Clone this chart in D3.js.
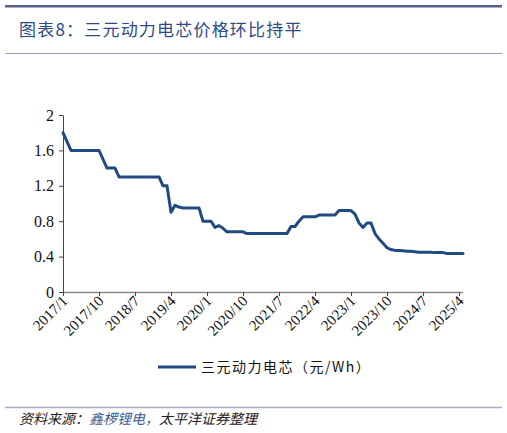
<!DOCTYPE html>
<html lang="zh">
<head>
<meta charset="UTF-8">
<script src="https://d3js.org/d3.v7.min.js"></script>
<style>
  body { margin: 0; background: #fff; }
  svg { display: block; }
</style>
</head>
<body>
<svg width="507" height="433"></svg>
<script>
// monthly values from 2017/1 to 2025/5 (元/Wh)
const startYear = 2017
const values = [
  1.8, 1.7, 1.6, 1.6, 1.6, 1.6, 1.6, 1.6, 1.6, 1.6, 1.5, 1.4,
  1.4, 1.4, 1.3, 1.3, 1.3, 1.3, 1.3, 1.3, 1.3, 1.3, 1.3, 1.3,
  1.3, 1.2, 1.2, 0.9, 0.98, 0.96, 0.95, 0.95, 0.95, 0.95, 0.95, 0.8,
  0.8, 0.8, 0.73, 0.75, 0.72, 0.68, 0.68, 0.68, 0.68, 0.68, 0.66, 0.66,
  0.66, 0.66, 0.66, 0.66, 0.66, 0.66, 0.66, 0.66, 0.66, 0.74, 0.74, 0.8,
  0.85, 0.85, 0.85, 0.85, 0.87, 0.87, 0.87, 0.87, 0.87, 0.92, 0.92, 0.92,
  0.92, 0.88, 0.78, 0.73, 0.78, 0.78, 0.66, 0.6, 0.55, 0.5, 0.48, 0.47,
  0.47, 0.465, 0.46, 0.46, 0.455, 0.45, 0.45, 0.45, 0.45, 0.445, 0.445, 0.445,
  0.435, 0.435, 0.435, 0.435, 0.435
]
const tickMonths = [0, 9, 18, 27, 36, 45, 54, 63, 72, 81, 90, 99]
const yTicks = [0, 0.4, 0.8, 1.2, 1.6, 2]
const seriesName = "三元动力电芯（元/Wh）"

const monthLabel = m => (startYear + Math.floor(m / 12)) + "/" + (m % 12 + 1)

const svg = d3.select("svg")
const serif = "'Liberation Serif', 'Times New Roman', serif"
const cjk = "'Noto Sans CJK SC', sans-serif"

// header / footer rules
svg.append("rect").attr("x", 5).attr("y", 5).attr("width", 497).attr("height", 2.5).attr("fill", "#5b5f8e")
svg.append("line").attr("x1", 5).attr("x2", 502).attr("y1", 53.5).attr("y2", 53.5).attr("stroke", "#9a9cc0")
svg.append("line").attr("x1", 5).attr("x2", 502).attr("y1", 407.5).attr("y2", 407.5).attr("stroke", "#a8aacb").attr("stroke-width", 1.5)

svg.append("text").attr("x", 19).attr("y", 36)
  .style("font-family", cjk).style("font-size", "17px").attr("fill", "#2d4b86")
  .attr("letter-spacing", 1.2)
  .text("图表8：三元动力电芯价格环比持平")

const src = svg.append("text").attr("x", 19).attr("y", 424)
  .style("font-family", cjk).style("font-size", "14px").style("font-style", "italic")
  .attr("fill", "#222")
src.append("tspan").text("资料来源：")
src.append("tspan").attr("fill", "#3b5c95").text("鑫椤锂电，")
src.append("tspan").text("太平洋证券整理")

const x = d3.scaleLinear().domain([0, 99]).range([63, 459])
const y = d3.scaleLinear().domain([0, 2]).range([292, 115])

const xAxis = svg.append("g").attr("transform", "translate(0,292)")
  .call(d3.axisBottom(x).tickValues(tickMonths).tickFormat(monthLabel).tickSize(4).tickSizeOuter(0))
xAxis.select(".domain").attr("stroke", "#888").attr("stroke-width", 1.5)
  .attr("d", "M63,0.5H463")
xAxis.selectAll(".tick line").attr("stroke", "#444")
xAxis.selectAll(".tick text")
  .style("font-family", serif).style("font-size", "15px").attr("fill", "#111")
  .attr("text-anchor", "end").attr("dy", 0).attr("y", 0)
  .attr("transform", "translate(5,10) rotate(-45)")

const yAxis = svg.append("g").attr("transform", "translate(63,0)")
  .call(d3.axisLeft(y).tickValues(yTicks).tickFormat(d3.format("")).tickSize(4).tickSizeOuter(0))
yAxis.select(".domain").attr("stroke", "#444")
yAxis.selectAll(".tick line").attr("stroke", "#444")
yAxis.selectAll(".tick text").style("font-family", serif).style("font-size", "16px").attr("fill", "#111").attr("x", -9)

const line = d3.line().x((d, i) => x(i)).y(d => y(d))
svg.append("path").datum(values).attr("d", line)
  .attr("fill", "none").attr("stroke", "#204a80").attr("stroke-width", 3)
  .attr("stroke-linejoin", "round").attr("stroke-linecap", "round")

// legend
svg.append("line").attr("x1", 158).attr("x2", 196).attr("y1", 367).attr("y2", 367)
  .attr("stroke", "#204a80").attr("stroke-width", 3)
svg.append("text").attr("x", 201).attr("y", 372)
  .style("font-family", cjk).style("font-size", "14px").attr("fill", "#111")
  .attr("letter-spacing", 1.5)
  .text(seriesName)
</script>
</body>
</html>
